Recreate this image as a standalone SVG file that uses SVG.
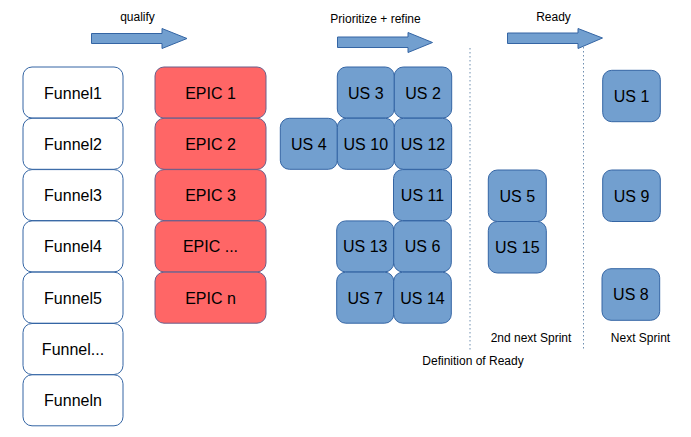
<svg xmlns="http://www.w3.org/2000/svg" width="691" height="437" viewBox="0 0 691 437">
<style>
text{font-family:"Liberation Sans",Arial,sans-serif;fill:#000;text-anchor:middle}
.t{font-size:16px}
.s{font-size:12px}
.f rect{fill:#fff;stroke:#3465a4;stroke-width:1}
.e rect{fill:#ff6666;stroke:#6b5f8a;stroke-width:1}
.u rect{fill:#729fcf;stroke:#3465a4;stroke-width:1}
.arr{fill:#729fcf;stroke:#3465a4;stroke-width:1}
.dl{stroke:#6f8fb0;stroke-width:1;stroke-dasharray:1.5 2.5;fill:none}
</style>
<rect width="691" height="437" fill="#fff"/>
<g id="connectors">
<polygon class="arr" points="91.5,33.5 162,33.5 162,28.5 187,38.5 162,48.5 162,43.5 91.5,43.5"/>
<polygon class="arr" points="337.5,37 408,37 408,32.5 432.5,42.5 408,52.5 408,47.5 337.5,47.5"/>
<polygon class="arr" points="507.5,33 578,33 578,28.5 602.5,38 578,48.5 578,43.5 507.5,43.5"/>
<line class="dl" x1="470" y1="48" x2="470" y2="350"/>
<line class="dl" x1="583.5" y1="47" x2="583.5" y2="350"/>
</g>
<g id="labels">
<text class="s" x="137.5" y="21">qualify</text>
<text class="s" x="375.5" y="23">Prioritize + refine</text>
<text class="s" x="553.5" y="21">Ready</text>
<text class="s" x="531" y="342">2nd next Sprint</text>
<text class="s" x="640.5" y="342">Next Sprint</text>
<text class="s" x="473" y="364.5">Definition of Ready</text>
</g>
<g id="funnel1" class="f"><rect x="23" y="67" width="100" height="51" rx="9"/><text class="t" x="73" y="98.5">Funnel1</text></g>
<g id="funnel2" class="f"><rect x="23" y="118.3" width="100" height="51" rx="9"/><text class="t" x="73" y="149.8">Funnel2</text></g>
<g id="funnel3" class="f"><rect x="23" y="169.6" width="100" height="51" rx="9"/><text class="t" x="73" y="201.1">Funnel3</text></g>
<g id="funnel4" class="f"><rect x="23" y="220.9" width="100" height="51" rx="9"/><text class="t" x="73" y="252.4">Funnel4</text></g>
<g id="funnel5" class="f"><rect x="23" y="272.2" width="100" height="51" rx="9"/><text class="t" x="73" y="303.7">Funnel5</text></g>
<g id="funnel6" class="f"><rect x="23" y="323.5" width="100" height="51" rx="9"/><text class="t" x="73" y="355">Funnel...</text></g>
<g id="funnel7" class="f"><rect x="23" y="374.8" width="100" height="51" rx="9"/><text class="t" x="73" y="406.3">Funneln</text></g>
<g id="epic1" class="e"><rect x="155" y="67" width="111" height="51" rx="9"/><text class="t" x="210.5" y="98.5">EPIC 1</text></g>
<g id="epic2" class="e"><rect x="155" y="118.3" width="111" height="51" rx="9"/><text class="t" x="210.5" y="149.8">EPIC 2</text></g>
<g id="epic3" class="e"><rect x="155" y="169.6" width="111" height="51" rx="9"/><text class="t" x="210.5" y="201.1">EPIC 3</text></g>
<g id="epic4" class="e"><rect x="155" y="220.9" width="111" height="51" rx="9"/><text class="t" x="210.5" y="252.4">EPIC ...</text></g>
<g id="epic5" class="e"><rect x="155" y="272.2" width="111" height="51" rx="9"/><text class="t" x="210.5" y="303.7">EPIC n</text></g>
<g id="us3" class="u"><rect x="337.3" y="67" width="57" height="51" rx="9"/><text class="t" x="365.8" y="98.5">US 3</text></g>
<g id="us2" class="u"><rect x="394.3" y="67" width="57.4" height="51" rx="9"/><text class="t" x="423" y="98.5">US 2</text></g>
<g id="us4" class="u"><rect x="280.3" y="118.3" width="57" height="51" rx="9"/><text class="t" x="308.8" y="149.8">US 4</text></g>
<g id="us10" class="u"><rect x="337.3" y="118.3" width="57" height="51" rx="9"/><text class="t" x="365.8" y="149.8">US 10</text></g>
<g id="us12" class="u"><rect x="394.3" y="118.3" width="57.4" height="51" rx="9"/><text class="t" x="423" y="149.8">US 12</text></g>
<g id="us11" class="u"><rect x="393.5" y="169.6" width="58" height="51" rx="9"/><text class="t" x="422.5" y="201.1">US 11</text></g>
<g id="us13" class="u"><rect x="336.7" y="220.9" width="57" height="51" rx="9"/><text class="t" x="365.2" y="252.4">US 13</text></g>
<g id="us6" class="u"><rect x="393.7" y="220.9" width="57.6" height="51" rx="9"/><text class="t" x="422.5" y="252.4">US 6</text></g>
<g id="us7" class="u"><rect x="336.7" y="272.2" width="57" height="51" rx="9"/><text class="t" x="365.2" y="303.7">US 7</text></g>
<g id="us14" class="u"><rect x="393.7" y="272.2" width="57.6" height="51" rx="9"/><text class="t" x="422.5" y="303.7">US 14</text></g>
<g id="us5" class="u"><rect x="488.3" y="170" width="58" height="51.5" rx="9"/><text class="t" x="517.3" y="201.7">US 5</text></g>
<g id="us15" class="u"><rect x="488.3" y="221.5" width="58" height="51.5" rx="9"/><text class="t" x="517.3" y="253.2">US 15</text></g>
<g id="us1" class="u"><rect x="602.7" y="70.3" width="57.6" height="51.4" rx="9"/><text class="t" x="631.5" y="102">US 1</text></g>
<g id="us9" class="u"><rect x="602.7" y="170" width="57.6" height="51.5" rx="9"/><text class="t" x="631.5" y="201.7">US 9</text></g>
<g id="us8" class="u"><rect x="602" y="268.7" width="57.7" height="51.6" rx="9"/><text class="t" x="630.9" y="300.4">US 8</text></g>
</svg>
